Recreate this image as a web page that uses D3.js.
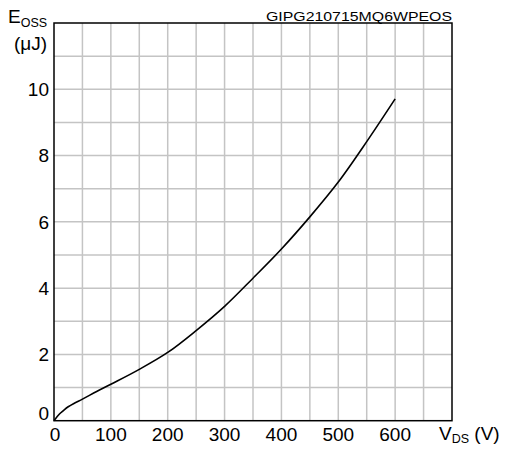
<!DOCTYPE html>
<html><head><meta charset="utf-8">
<script src="https://cdn.jsdelivr.net/npm/d3@7"></script>
<style>body{margin:0;background:#fff}svg{display:block}text{font-family:"Liberation Sans",Arial,sans-serif;fill:#000}</style>
</head><body>
<script>
const vds = [0, 4, 8, 12, 18, 25, 35, 50, 75, 100, 150, 200, 250, 300, 350, 400, 450, 500, 550, 600];
const eoss = [0, 0.09, 0.17, 0.24, 0.33, 0.42, 0.52, 0.65, 0.88, 1.1, 1.55, 2.06, 2.72, 3.45, 4.3, 5.18, 6.15, 7.2, 8.42, 9.71];
const xTicks = [0, 100, 200, 300, 400, 500, 600];
const yTicks = [0, 2, 4, 6, 8, 10];
const title = "GIPG210715MQ6WPEOS";

const W = 513, H = 450;
const L = 54, R = 452, T = 23, B = 420.7;
const svg = d3.select("body").append("svg").attr("width", W).attr("height", H);
const x = d3.scaleLinear().domain([0, 700]).range([L, R]);
const y = d3.scaleLinear().domain([0, 12]).range([B, T]);

const g = svg.append("g");
g.selectAll(".vg").data(d3.range(50, 700, 50)).join("line")
  .attr("x1", d => x(d)).attr("x2", d => x(d)).attr("y1", T).attr("y2", B)
  .attr("stroke", "#c4c4c4").attr("stroke-width", 1.5);
g.selectAll(".hg").data(d3.range(1, 12, 1)).join("line")
  .attr("y1", d => y(d)).attr("y2", d => y(d)).attr("x1", L).attr("x2", R)
  .attr("stroke", "#c4c4c4").attr("stroke-width", 1.5);
svg.append("rect").attr("x", L).attr("y", T).attr("width", R - L).attr("height", B - T)
  .attr("fill", "none").attr("stroke", "#000").attr("stroke-width", 1.5);

const pts = vds.map((v, i) => [v, eoss[i]]);
svg.append("path").datum(pts)
  .attr("d", d3.line().x(d => x(d[0])).y(d => y(d[1])).curve(d3.curveCatmullRom.alpha(0.5)))
  .attr("fill", "none").attr("stroke", "#000").attr("stroke-width", 1.6);

svg.selectAll(".yt").data(yTicks).join("text")
  .attr("x", 49).attr("y", d => d === 0 ? y(d) - 7 : y(d))
  .attr("dy", "0.35em").attr("text-anchor", "end").attr("font-size", 19).text(d => d);
svg.selectAll(".xt").data(xTicks).join("text")
  .attr("x", d => x(d) + (d === 0 ? 1 : 0)).attr("y", 440.5)
  .attr("text-anchor", "middle").attr("font-size", 19).text(d => d);

const yl = svg.append("text").attr("x", 8).attr("y", 23).attr("font-size", 19);
yl.append("tspan").text("E");
yl.append("tspan").attr("font-size", 12.5).attr("dy", 4).text("OSS");
svg.append("text").attr("x", 14).attr("y", 50).attr("font-size", 19).text("(μJ)");

const xl = svg.append("text").attr("x", 439).attr("y", 440).attr("font-size", 19);
xl.append("tspan").text("V");
xl.append("tspan").attr("font-size", 12.5).attr("dy", 3).text("DS");
xl.append("tspan").attr("dy", -3).text(" (V)");

svg.append("text").attr("x", 266).attr("y", 20.5).attr("font-size", 12.5)
  .attr("textLength", 186).attr("lengthAdjust", "spacingAndGlyphs").text(title);
</script>
</body></html>
